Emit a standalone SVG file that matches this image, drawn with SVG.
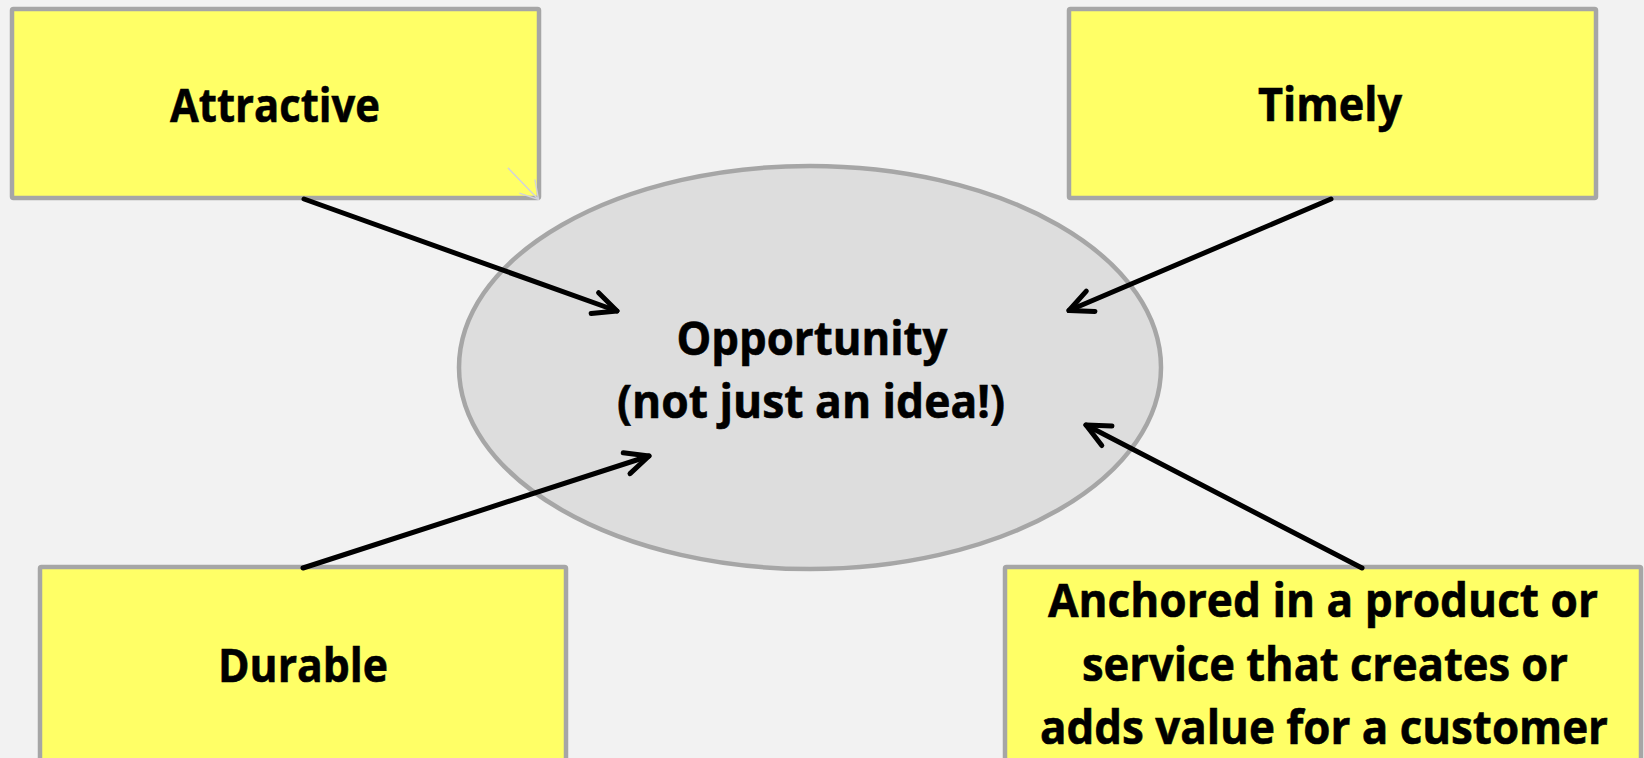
<svg xmlns="http://www.w3.org/2000/svg" width="1644" height="758" viewBox="0 0 1644 758">
  <style>
    .box { fill: #ffff66; stroke: #a6a6a6; stroke-width: 4.5; }
    .oval { fill: #dddddd; stroke: #a6a6a6; stroke-width: 4.5; }
    .lbl { font-family: "Open Sans", "Liberation Sans", sans-serif; font-weight: bold; font-size: 46px; fill: #000000; stroke: #000000; stroke-width: 0.6; text-anchor: middle; }
    .conn { stroke: #000000; stroke-width: 5; fill: none; stroke-linecap: round; }
    .ghost { stroke: #d2d2dc; stroke-width: 1.4; fill: none; stroke-linecap: round; }
  </style>
  <defs>
    <marker id="arrow" markerUnits="userSpaceOnUse" viewBox="-30 -15 34 30" markerWidth="34" markerHeight="30" refX="0" refY="0" orient="auto">
      <path d="M-23.5,-11 L0,0 L-23.5,11" fill="none" stroke="#000000" stroke-width="5" stroke-linecap="round" stroke-linejoin="round"/>
    </marker>
  </defs>
  <rect x="0" y="0" width="1644" height="758" fill="#f2f2f2"/>

  <g id="opportunity">
    <ellipse class="oval" cx="810" cy="367.5" rx="351" ry="201.5"/>
    <text class="lbl" x="812" y="355" textLength="271" lengthAdjust="spacingAndGlyphs">Opportunity</text>
    <text class="lbl" x="811" y="418" textLength="388" lengthAdjust="spacingAndGlyphs">(not just an idea!)</text>
  </g>

  <g id="attractive">
    <rect class="box" x="12" y="9" width="527" height="189" rx="1.5"/>
    <text class="lbl" x="275" y="122" textLength="210" lengthAdjust="spacingAndGlyphs">Attractive</text>
    <path class="ghost" d="M508.3,168.3 L538.5,199.5 M520,193.3 L538.5,199.5 L535,180"/>
  </g>

  <g id="timely">
    <rect class="box" x="1069" y="9" width="527" height="189" rx="1.5"/>
    <text class="lbl" x="1330" y="121" textLength="144" lengthAdjust="spacingAndGlyphs">Timely</text>
  </g>

  <g id="durable">
    <rect class="box" x="40" y="567" width="526" height="200" rx="1.5"/>
    <text class="lbl" x="303" y="681.5" textLength="170" lengthAdjust="spacingAndGlyphs">Durable</text>
  </g>

  <g id="anchored">
    <rect class="box" x="1005" y="567" width="636" height="200" rx="1.5"/>
    <text class="lbl" x="1323" y="617" textLength="550" lengthAdjust="spacingAndGlyphs">Anchored in a product or</text>
    <text class="lbl" x="1325" y="680.5" textLength="486" lengthAdjust="spacingAndGlyphs">service that creates or</text>
    <text class="lbl" x="1324" y="744" textLength="568" lengthAdjust="spacingAndGlyphs">adds value for a customer</text>
  </g>

  <g id="connectors">
    <line class="conn" x1="304" y1="199" x2="617" y2="311" marker-end="url(#arrow)"/>
    <line class="conn" x1="1331" y1="199" x2="1069" y2="310.5" marker-end="url(#arrow)"/>
    <line class="conn" x1="303" y1="568" x2="649" y2="456" marker-end="url(#arrow)"/>
    <line class="conn" x1="1362" y1="568" x2="1086" y2="425" marker-end="url(#arrow)"/>
  </g>
</svg>
